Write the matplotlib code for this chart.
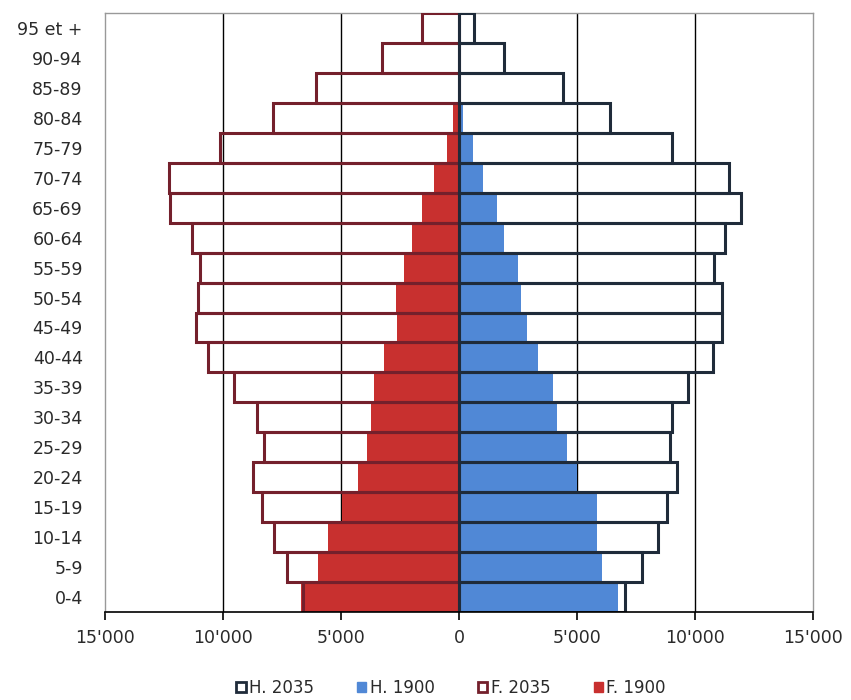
import numpy as np
import matplotlib
matplotlib.use("Agg")
import matplotlib.pyplot as plt
from matplotlib.patches import Patch
from matplotlib.ticker import FuncFormatter

# age groups, bottom to top
ages = ["0-4", "5-9", "10-14", "15-19", "20-24", "25-29", "30-34", "35-39",
        "40-44", "45-49", "50-54", "55-59", "60-64", "65-69", "70-74",
        "75-79", "80-84", "85-89", "90-94", "95 et +"]

# women (left side)
f_2035 = [6600, 7290, 7840, 8350, 8730, 8260, 8560, 9530, 10640, 11140,
          11060, 10970, 11310, 12250, 12290, 10130, 7880, 6060, 3260, 1570]
f_1900 = [6700, 5980, 5560, 4960, 4290, 3910, 3740, 3590, 3180, 2630,
          2680, 2330, 1980, 1570, 1060, 510, 250, 60, 20, 5]

# men (right side)
h_2035 = [7030, 7750, 8430, 8810, 9230, 8940, 9030, 9700, 10760, 11140,
          11140, 10800, 11270, 11950, 11440, 9020, 6400, 4410, 1900, 640]
h_1900 = [6740, 6060, 5850, 5850, 5000, 4580, 4150, 3980, 3350, 2880,
          2630, 2500, 1910, 1600, 1020, 600, 180, 50, 20, 5]

red = "#c8302f"
blue = "#5088d6"
dark_red = "#74202c"
navy = "#1f2b3a"

y = np.arange(len(ages))
f2035 = -np.array(f_2035)
f1900 = -np.array(f_1900)

fig = plt.figure(figsize=(8.51, 7.0), dpi=100)
ax = fig.add_axes([105 / 851, 1 - 612 / 700, 708 / 851, 599 / 700])

lw = 2.2
# 1900 filled
ax.barh(y, f1900, height=1.0, color=red, zorder=3)
ax.barh(y, h_1900, height=1.0, color=blue, zorder=3)
# 2035 outlines (transparent, grid shows through)
ax.barh(y, f2035, height=1.0, facecolor="none", edgecolor=dark_red,
        linewidth=lw, zorder=4)
ax.barh(y, h_2035, height=1.0, facecolor="none", edgecolor=navy,
        linewidth=lw, zorder=4)

ax.set_xlim(-15000, 15000)
ax.set_ylim(-0.5, len(ages) - 0.5)
ax.set_xticks(np.arange(-15000, 15001, 5000))
ax.xaxis.set_major_formatter(
    FuncFormatter(lambda v, p: f"{abs(int(v)):,}".replace(",", "'")))
ax.set_yticks(y)
ax.set_yticklabels(ages)

for gx in [-10000, -5000, 5000, 10000]:
    ax.axvline(gx, color="black", linewidth=1.0, zorder=1)

for s in ["left", "top", "right"]:
    ax.spines[s].set_color("#999999")
    ax.spines[s].set_linewidth(1.0)
ax.spines["bottom"].set_color("black")
ax.spines["bottom"].set_linewidth(1.2)
ax.spines["bottom"].set_zorder(5)

ax.tick_params(axis="y", length=0, pad=16, labelsize=12.5, labelcolor="#2a2a2a")
ax.tick_params(axis="x", direction="out", length=6, width=1.2, pad=6,
               labelsize=12.5, labelcolor="#2a2a2a")

handles = [
    Patch(facecolor="white", edgecolor=navy, linewidth=2.0, label="H. 2035"),
    Patch(facecolor=blue, edgecolor=blue, label="H. 1900"),
    Patch(facecolor="white", edgecolor=dark_red, linewidth=2.0, label="F. 2035"),
    Patch(facecolor=red, edgecolor=red, label="F. 1900"),
]
fig.legend(handles=handles, loc="center", bbox_to_anchor=(451 / 851, 1 - 688 / 700),
           ncol=4, frameon=False, fontsize=12, handlelength=0.55,
           handleheight=0.55, handletextpad=0.2, columnspacing=2.6,
           labelcolor="#2a2a2a")

fig.savefig("out.png", dpi=100)
